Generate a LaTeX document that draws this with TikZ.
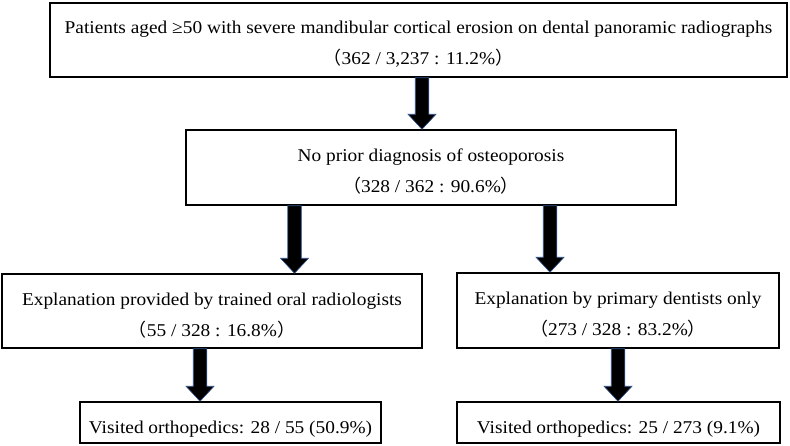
\documentclass[tikz,border=0pt]{standalone}
\usepackage{fontspec}
\setmainfont{Liberation Serif}[FakeStretch=1.075]
\newfontfamily\cjk{Noto Sans CJK JP}
\usepackage{tikz}
\usetikzlibrary{positioning,calc}
\definecolor{arrowblue}{RGB}{47,82,143}

% thick block arrow from a point on one box down to the top of the next
\newcommand{\fatarrow}[2]{%
  \filldraw[fill=black,draw=arrowblue,line width=0.6pt]
    let \p1=(#1), \p2=(#2) in
    (\x1-6.75pt,\y1) -- (\x1-6.75pt,\y2+15pt) -- (\x1-14pt,\y2+15pt) -- (\x1,\y2)
    -- (\x1+14pt,\y2+15pt) -- (\x1+6.75pt,\y2+15pt) -- (\x1+6.75pt,\y1) -- cycle;}
\newcommand{\lowstrut}{\rule{0pt}{21pt}}

\begin{document}
\begin{tikzpicture}[font=\fontsize{18}{21}\selectfont,
    box/.style={draw,line width=1.5pt,inner sep=0pt,align=center},
    visitbox/.style={box,minimum height=41pt,text height=26pt,text depth=4pt}]
    \useasboundingbox (0,0) rectangle (790pt,-445pt);
    \node[box,minimum width=737pt,minimum height=74pt] (top) at (418.5pt,-40pt)
      {\lowstrut Patients aged ≥50 with severe mandibular cortical erosion on dental panoramic radiographs\\[10pt]
       {\cjk （}362 / 3,237 : 11.2\%{\cjk ）}};
    \node[box,minimum width=490pt,minimum height=75pt,node distance=127.5pt,below of=top,xshift=12.5pt] (nodiag)
      {\lowstrut No prior diagnosis of osteoporosis\\[10pt]
       {\cjk （}328 / 362 : 90.6\%{\cjk ）}};
    \node[box,minimum width=420pt,minimum height=74pt,node distance=143.5pt,below of=nodiag,xshift=-219pt] (oral)
      {\lowstrut Explanation provided by trained oral radiologists\\[10pt]
       {\cjk （}55 / 328 : 16.8\%{\cjk ）}};
    \node[box,minimum width=322pt,minimum height=75pt,node distance=143pt,below of=nodiag,xshift=187pt] (dentist)
      {\lowstrut Explanation by primary dentists only\\[10pt]
       {\cjk （}273 / 328 : 83.2\%{\cjk ）}};
    \node[visitbox,minimum width=301pt,node distance=111.5pt,below of=oral,xshift=18.5pt] (visitoral)
      {Visited orthopedics: 28 / 55 (50.9\%)};
    \node[visitbox,minimum width=323pt,node distance=112pt,below of=dentist,xshift=0.5pt] (visitdentist)
      {Visited orthopedics: 25 / 273 (9.1\%)};

    \fatarrow{[xshift=3.5pt]top.south}{nodiag.north}
    \fatarrow{[xshift=-136.5pt]nodiag.south}{oral.north}
    \fatarrow{[xshift=119pt]nodiag.south}{dentist.north}
    \fatarrow{[xshift=-12pt]oral.south}{visitoral.north}
    \fatarrow{dentist.south}{visitdentist.north}
  \end{tikzpicture}
\end{document}
